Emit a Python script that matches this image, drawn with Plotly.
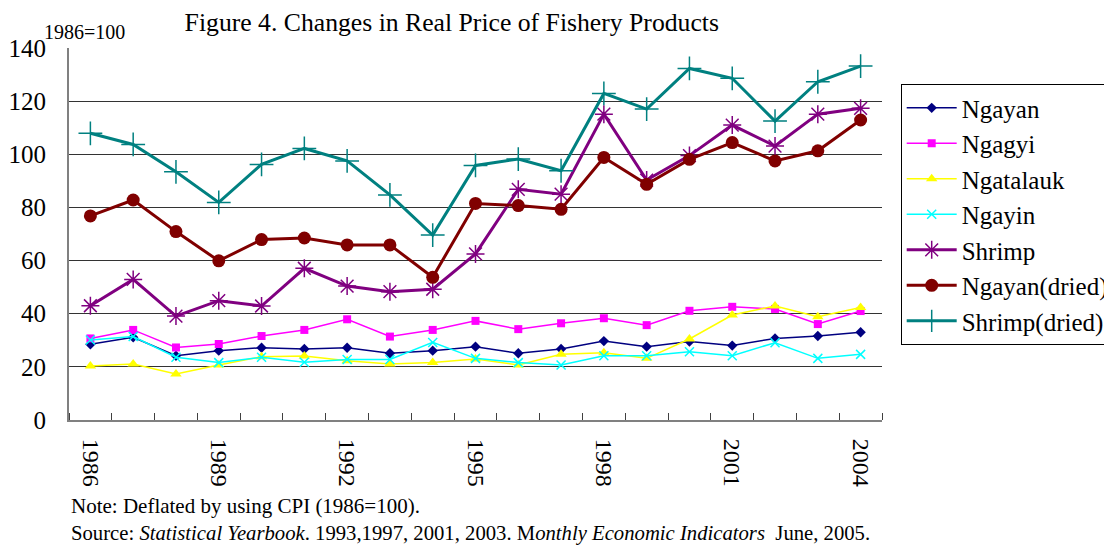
import plotly.graph_objects as go

years = list(range(1986, 2005))
x_tick_years = [1986, 1989, 1992, 1995, 1998, 2001, 2004]

ngayan = [28.5, 31.1, 24.2, 26.1, 27.2, 26.7, 27.2, 25.1, 26.1, 27.6, 25.1, 26.7, 29.7, 27.6, 29.5, 28.0, 30.7, 31.6, 33.0]
ngagyi = [30.7, 33.9, 27.3, 28.6, 31.6, 33.9, 37.9, 31.4, 33.9, 37.3, 34.2, 36.4, 38.3, 35.7, 41.1, 42.6, 41.8, 36.1, 41.0]
ngatalauk = [20.3, 21.1, 17.3, 20.7, 23.8, 24.1, 22.3, 21.1, 21.6, 23.0, 20.7, 24.7, 25.3, 23.2, 30.5, 39.5, 42.9, 38.9, 42.3]
ngayin = [30.1, 31.4, 23.6, 21.6, 23.6, 21.7, 22.8, 22.8, 29.2, 23.2, 21.6, 20.7, 24.2, 24.2, 25.7, 24.2, 29.1, 23.2, 24.7]
shrimp = [43.0, 52.9, 39.1, 44.9, 42.9, 57.1, 50.4, 48.3, 49.2, 62.5, 86.8, 85.0, 115.1, 90.3, 99.5, 111.0, 103.1, 115.1, 117.3]
ngayan_dried = [76.8, 82.8, 70.9, 59.9, 67.9, 68.5, 65.9, 65.9, 53.7, 81.5, 80.7, 79.3, 98.8, 88.7, 98.1, 104.4, 97.5, 101.3, 112.9]
shrimp_dried = [107.9, 103.7, 93.4, 81.9, 96.2, 102.2, 97.5, 84.7, 69.6, 95.8, 98.2, 93.8, 122.9, 117.0, 132.3, 128.6, 112.5, 127.3, 133.2]

series = [
    ("Ngayan", ngayan, "#000080", 1.5, "diamond", 8, 0),
    ("Ngagyi", ngagyi, "#FF00FF", 1.5, "square", 8, 0),
    ("Ngatalauk", ngatalauk, "#FFFF00", 1.5, "triangle-up", 10, 0),
    ("Ngayin", ngayin, "#00FFFF", 1.5, "x-thin-open", 9, 1.5),
    ("Shrimp", shrimp, "#800080", 3, "asterisk-open", 15, 1.5),
    ("Ngayan(dried)", ngayan_dried, "#800000", 3, "circle", 13, 0),
    ("Shrimp(dried)", shrimp_dried, "#008080", 3, "cross-thin-open", 17, 1.5),
]

SERIF = "Liberation Serif"

fig = go.Figure()
for i, (name, vals, color, lw, sym, ms, mlw) in enumerate(series):
    fig.add_trace(go.Scatter(
        x=years, y=vals, name=name, mode="lines+markers",
        legendgroup=f"g{i}",
        line=dict(color=color, width=lw),
        marker=dict(symbol=sym, size=ms, color=color,
                    line=dict(color=color, width=mlw)),
    ))

# page body has an 8px default margin, so the figure is 8px smaller
fig.update_layout(
    width=1104, height=537,
    margin=dict(l=61, r=230, t=40, b=125, autoexpand=False),
    paper_bgcolor="white", plot_bgcolor="white",
    font=dict(family=SERIF, color="black"),
    title=dict(text="Figure 4. Changes in Real Price of Fishery Products",
               x=0.402, xanchor="center", y=0.974, yanchor="middle",
               font=dict(family=SERIF, size=25.7, color="black")),
    legend=dict(x=1.023, xanchor="left", y=0.903, yanchor="top",
                bordercolor="black", borderwidth=1, bgcolor="white",
                font=dict(family=SERIF, size=25, color="black"),
                itemwidth=50, tracegroupgap=0),
    showlegend=True,
)

fig.update_xaxes(
    range=[1985.5, 2004.5], automargin=False,
    tickmode="array", tickvals=x_tick_years, ticktext=[str(y) for y in x_tick_years],
    tickangle=90, ticks="", ticklabelstandoff=12,
    tickfont=dict(family=SERIF, size=24, color="black"),
    showgrid=False, zeroline=False,
    showline=True, linecolor="#808080", linewidth=2,
    minor=dict(tickmode="linear", tick0=1985.5, dtick=1, ticks="inside",
               ticklen=7, tickcolor="#404040", tickwidth=1, showgrid=False),
)
fig.update_yaxes(
    range=[0, 140], dtick=20, tick0=0, automargin=False,
    ticks="", ticklabelstandoff=16,
    tickfont=dict(family=SERIF, size=25, color="black"),
    showgrid=True, gridcolor="#333333", gridwidth=1,
    zeroline=False,
    showline=True, linecolor="#808080", linewidth=2,
)

fig.add_annotation(text="1986=100", xref="paper", yref="paper",
                   x=-0.0336, y=1.043, xanchor="left", yanchor="middle",
                   showarrow=False, font=dict(family=SERIF, size=20, color="black"))
fig.add_annotation(text="Note: Deflated by using CPI (1986=100).", xref="paper", yref="paper",
                   x=0, y=-0.231, xanchor="left", yanchor="middle",
                   showarrow=False, font=dict(family=SERIF, size=21, color="black"))
fig.add_annotation(text="Source: <i>Statistical Yearbook</i>. 1993,1997, 2001, 2003. M<i>onthly Economic Indicators</i>  June, 2005.",
                   xref="paper", yref="paper",
                   x=0, y=-0.304, xanchor="left", yanchor="middle",
                   showarrow=False, font=dict(family=SERIF, size=20.7, color="black"))

fig.write_html("out.html")
